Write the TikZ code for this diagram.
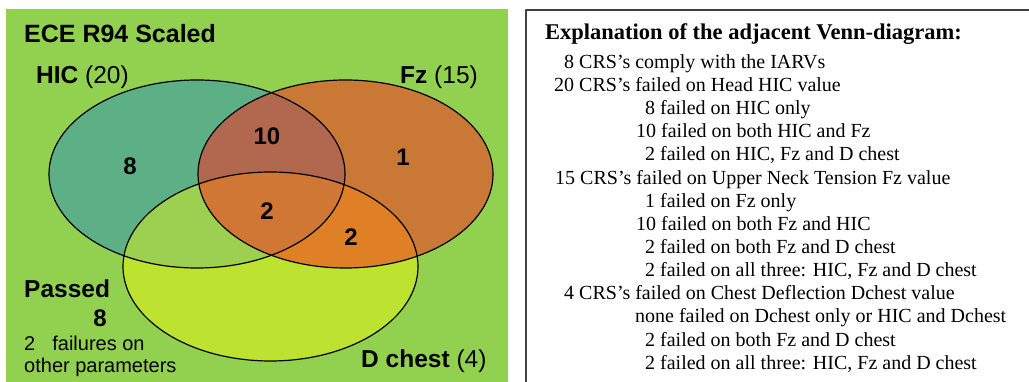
\documentclass[tikz,border=0pt]{standalone}
\usepackage{fontspec}
\setmainfont{Liberation Serif}
\setsansfont{Liberation Sans}
\usepackage{pgf,tikz}

\definecolor{panelgreen}{RGB}{146,208,80}
\definecolor{hicblue}{RGB}{20,130,210}
\definecolor{fzred}{RGB}{255,40,30}
\definecolor{chestyellow}{RGB}{255,255,0}

\begin{document}
\begin{tikzpicture}[line cap=round,line join=round,x=1pt,y=-1pt,
  lbl/.style={inner sep=0pt,anchor=base west,font=\sffamily\fontsize{24.5}{28}\selectfont},
  num/.style={inner sep=0pt,font=\sffamily\bfseries\fontsize{24}{28}\selectfont},
  txt/.style={inner sep=0pt,anchor=base west,font=\fontsize{20}{23}\selectfont}]
\useasboundingbox (0,0) rectangle (1029,382);
\fill[panelgreen] (6,9) rectangle (508,382);
\draw[black!75,line width=1.3pt] (526,382) -- (526,10) -- (1029,10);
% set centres
\coordinate (hicc) at (197,174);
\coordinate (fzc) at (345.5,174);
\coordinate (chestc) at (270.5,266.5);
\fill[hicblue,fill opacity=0.42] (hicc) ellipse [x radius=148pt,y radius=94pt];
\fill[chestyellow,fill opacity=0.4] (chestc) ellipse [x radius=147.5pt,y radius=94.5pt];
\fill[fzred,fill opacity=0.52] (fzc) ellipse [x radius=147.5pt,y radius=94pt];
\draw[line width=1.2pt] (hicc) ellipse [x radius=148pt,y radius=94pt];
\draw[line width=1.2pt] (fzc) ellipse [x radius=147.5pt,y radius=94pt];
\draw[line width=1.2pt] (chestc) ellipse [x radius=147.5pt,y radius=94.5pt];
% labels
\node[lbl] (title) at (24,43) {\bfseries\fontsize{25}{28}\selectfont ECE R94 Scaled};
\node[lbl] (hic) at (36,84) {\textbf{HIC} (20)};
\node[lbl] (fz) at (400,84) {\textbf{Fz} (15)};
\node[lbl] (chest) at (361,367) {\textbf{D chest} (4)};
\node[lbl] (passed) at (24,297.5) {\bfseries Passed};
\node[num,anchor=base] (npassed) at (100,326.5) {8};
\node[txt,font=\sffamily\fontsize{20}{23}\selectfont] (other1) at (24,351) {2\hspace{17pt}failures on};
\node[txt,font=\sffamily\fontsize{20}{23}\selectfont] (other2) at (24,373) {other parameters};
% region counts
\node[num] (nhic) at (130,166) {8};
\node[num] (nhicfz) at (267,136) {10};
\node[num] (nfz) at (403,157) {1};
\node[num] (nall) at (267,211) {2};
\node[num] (nfzchest) at (351,237) {2};
% explanation
\node[txt,font=\bfseries\fontsize{22.5}{26}\selectfont] (expl) at (545,40) {Explanation of the adjacent Venn-diagram:};
\node[txt] (e1) at (564,68.3) {8 CRS’s comply with the IARVs};
\node[txt] (e2) at (554,91.5) {20 CRS’s failed on Head HIC value};
\node[txt] (e3) at (645,114.6) {8 failed on HIC only};
\node[txt] (e4) at (636,137.8) {10 failed on both HIC and Fz};
\node[txt] (e5) at (645,160.9) {2 failed on HIC, Fz and D chest};
\node[txt] (e6) at (555,184.1) {15 CRS’s failed on Upper Neck Tension Fz value};
\node[txt] (e7) at (645,207.2) {1 failed on Fz only};
\node[txt] (e8) at (636,230.4) {10 failed on both Fz and HIC};
\node[txt] (e9) at (645,253.5) {2 failed on both Fz and D chest};
\node[txt] (e10) at (645,276.7) {2 failed on all three: HIC, Fz and D chest};
\node[txt] (e11) at (564,299.8) {4 CRS’s failed on Chest Deflection Dchest value};
\node[txt] (e12) at (635,323.0) {none failed on Dchest only or HIC and Dchest};
\node[txt] (e13) at (645,346.1) {2 failed on both Fz and D chest};
\node[txt] (e14) at (645,369.3) {2 failed on all three: HIC, Fz and D chest};
\end{tikzpicture}
\end{document}
